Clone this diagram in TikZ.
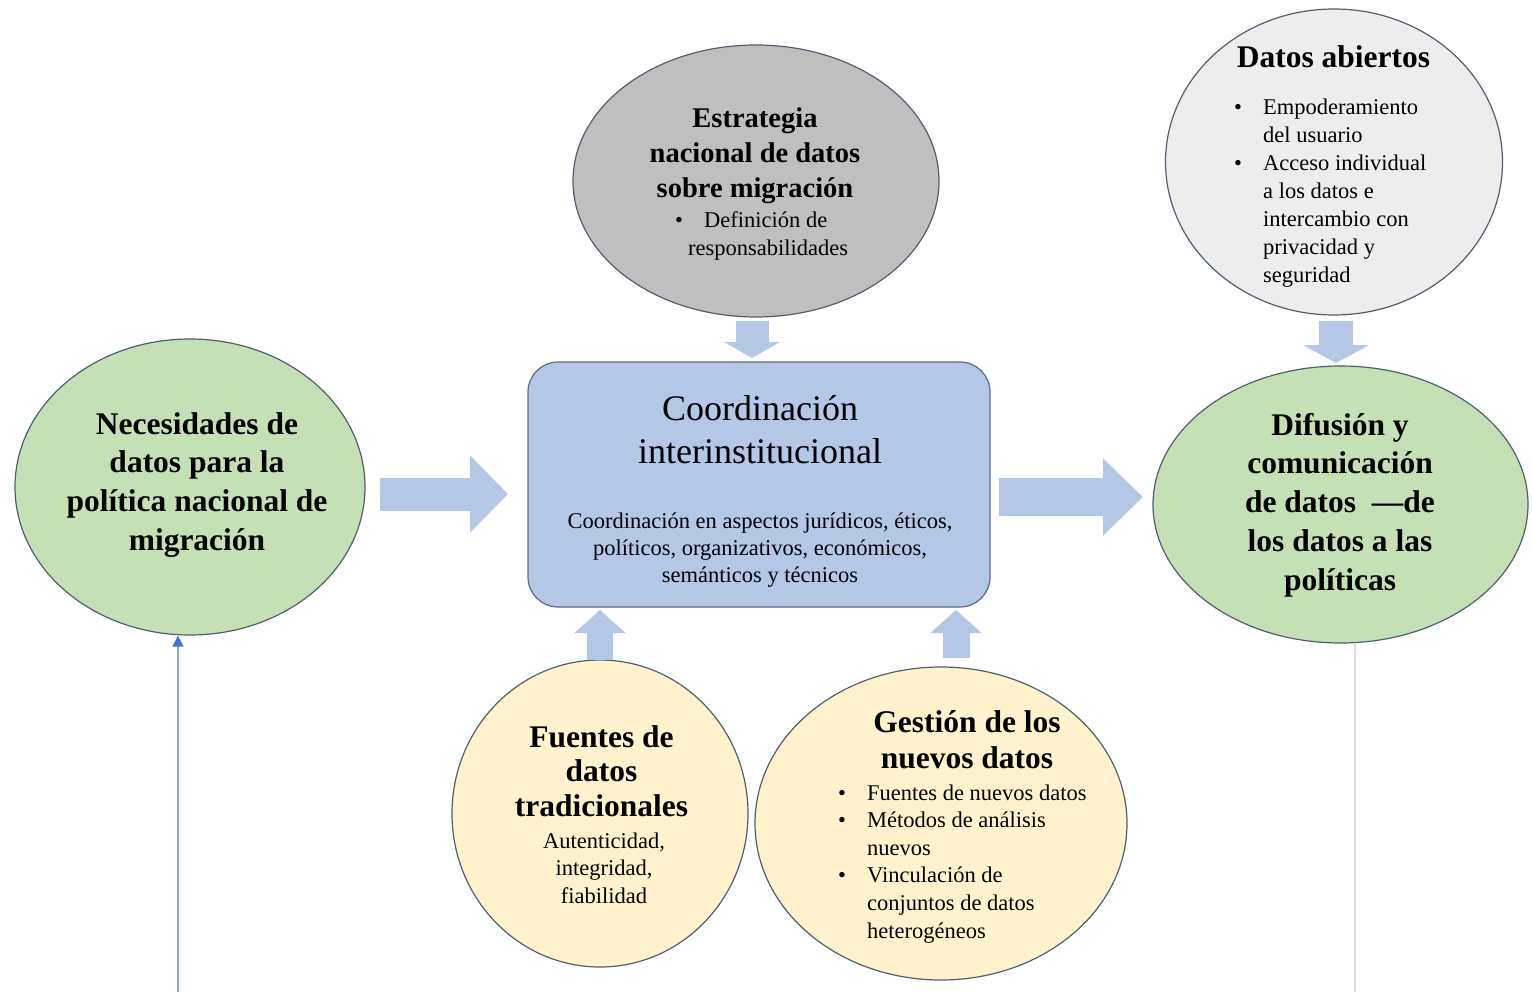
\documentclass[tikz,border=0pt]{standalone}
\usepackage{fontspec}
\setmainfont{Liberation Serif}
\usetikzlibrary{shapes.geometric,arrows.meta}
\definecolor{grn}{HTML}{C5E0B4}
\definecolor{yel}{HTML}{FFF2CC}
\definecolor{gry}{HTML}{BFBFBF}
\definecolor{lgry}{HTML}{EDEDED}
\definecolor{bfill}{HTML}{B4C7E7}
\definecolor{edgec}{HTML}{4F5F70}
\definecolor{boxedge}{HTML}{5A6C88}
\definecolor{arrc}{HTML}{B4C7E7}
\definecolor{thinl}{HTML}{8EA9DB}
\definecolor{thintip}{HTML}{4472C4}
\definecolor{thinr}{HTML}{D6DCE5}
\newcommand\ctext[1]{\begin{tabular}[t]{@{}c@{}}#1\end{tabular}}
\newcommand\btext[1]{\begin{tabular}[t]{@{}l@{}l@{}}#1\end{tabular}}
\newcommand\bul{\makebox[29pt][l]{•}}
\begin{document}
\begin{tikzpicture}[x=1pt,y=-1pt,
  shp/.style={ellipse,draw=edgec,line width=1.2pt,inner sep=0pt},
  txt/.style={inner sep=0pt,anchor=base,text=black},
  txtl/.style={inner sep=0pt,anchor=base west,text=black},
  blockarrow/.style={draw=arrc,line width=#1},
  thinarrow/.style={draw=thinl,line width=1.5pt}]
\useasboundingbox (0,0) rectangle (1533,992);
\fill[white] (0,0) rectangle (1533,992);

% shapes
\node[shp,fill=grn,minimum width=350pt,minimum height=296pt] (nec) at (190,487) {};
\node[shp,fill=gry,minimum width=366pt,minimum height=272pt] (est) at (756,181) {};
\node[shp,fill=lgry,minimum width=337pt,minimum height=306pt] (dat) at (1334,162) {};
\node[draw=boxedge,line width=1.2pt,fill=bfill,rounded corners=30pt,minimum width=462pt,minimum height=245pt,inner sep=0pt] (box) at (759,484.5) {};
\node[shp,fill=grn,minimum width=375pt,minimum height=277pt] (dif) at (1340.5,504.5) {};
\node[shp,fill=yel,minimum width=296pt,minimum height=307pt] (fue) at (600,813.5) {};
\node[shp,fill=yel,minimum width=372pt,minimum height=313pt] (ges) at (941,823.5) {};

% block arrows
\coordinate (a1s) at (380,494);
\coordinate (a1e) at (508,494);
\draw[blockarrow=33pt,-{Triangle[length=38pt,width=75pt]}] (a1s) -- (a1e);
\coordinate (a2s) at (999,497);
\coordinate (a2e) at (1143,497);
\draw[blockarrow=38pt,-{Triangle[length=40pt,width=75pt]}] (a2s) -- (a2e);
\coordinate (a3s) at (752,321);
\coordinate (a3e) at (752,358);
\draw[blockarrow=33pt,-{Triangle[length=16pt,width=55pt]}] (a3s) -- (a3e);
\coordinate (a4s) at (1336,321);
\coordinate (a4e) at (1336,363);
\draw[blockarrow=34pt,-{Triangle[length=18pt,width=65pt]}] (a4s) -- (a4e);
\coordinate (a5s) at (600,660);
\coordinate (a5e) at (600,610);
\draw[blockarrow=26pt,-{Triangle[length=23pt,width=50pt]}] (a5s) -- (a5e);
\coordinate (a6s) at (956,658);
\coordinate (a6e) at (956,610);
\draw[blockarrow=27pt,-{Triangle[length=23pt,width=50pt]}] (a6s) -- (a6e);

% thin lines
\coordinate (lb) at (178,992);
\draw[thinarrow,-{Triangle[length=11pt,width=11pt,color=thintip]}] (lb) -- (lb |- nec.south);
\coordinate (rb) at (1355,992);
\draw[draw=thinr,line width=2pt] (rb) -- (rb |- dif.south);

% texts
\node[txt] (t-nec) at (197,434) {\fontsize{31.5}{38.7}\selectfont\bfseries\ctext{Necesidades de\\datos para la\\política nacional de\\migración}};

\node[txt] (t-est) at (755,128) {\fontsize{28.5}{35}\selectfont\bfseries\ctext{Estrategia\\nacional de datos\\sobre migración}};
\node[txtl] (t-est2) at (675,228) {\fontsize{22.5}{27}\selectfont\bul Definición de};
\node[txtl] (t-est3) at (688,255) {\fontsize{22.5}{27}\selectfont responsabilidades};

\node[txt] (t-dat) at (1333.5,68) {\fontsize{31.5}{36}\selectfont\bfseries Datos abiertos};
\node[txtl] (t-dat2) at (1234,115) {\fontsize{22.5}{28}\selectfont\btext{\bul&Empoderamiento\\ &del usuario\\ \bul&Acceso individual\\ &a los datos e\\ &intercambio con\\ &privacidad y\\ &seguridad}};

\node[txt] (t-box) at (760,420) {\fontsize{36}{43}\selectfont\ctext{Coordinación\\interinstitucional}};
\node[txt] (t-box2) at (760,528) {\fontsize{22.5}{27}\selectfont\ctext{Coordinación en aspectos jurídicos, éticos,\\políticos, organizativos, económicos,\\semánticos y técnicos}};

\node[txt] (t-dif) at (1340,435) {\fontsize{31.5}{38.8}\selectfont\bfseries\ctext{Difusión y\\comunicación\\de datos~~—de\\los datos a las\\políticas}};

\node[txt] (t-fue) at (601.5,747) {\fontsize{31.5}{34.5}\selectfont\bfseries\ctext{Fuentes de\\datos\\tradicionales}};
\node[txt] (t-fue2) at (604,848) {\fontsize{22.5}{27.5}\selectfont\ctext{Autenticidad,\\integridad,\\fiabilidad}};

\node[txt] (t-ges) at (967,732) {\fontsize{31.5}{36}\selectfont\bfseries\ctext{Gestión de los\\nuevos datos}};
\node[txtl] (t-ges2) at (838,800) {\fontsize{22.5}{27.6}\selectfont\btext{\bul&Fuentes de nuevos datos\\ \bul&Métodos de análisis\\ &nuevos\\ \bul&Vinculación de\\ &conjuntos de datos\\ &heterogéneos}};
\end{tikzpicture}
\end{document}
